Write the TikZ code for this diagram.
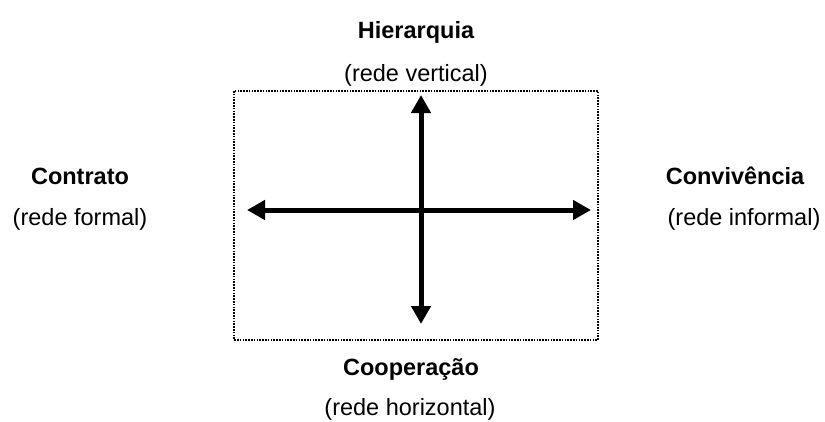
\documentclass[tikz,border=0pt]{standalone}
\usepackage{fontspec}
\setmainfont{Liberation Sans}
\usetikzlibrary{arrows.meta}
\tikzset{
  lbl/.style={anchor=base, inner sep=0pt, font=\fontsize{23.5}{28}\selectfont},
  ttl/.style={lbl, font=\fontsize{23.5}{28}\selectfont\bfseries},
  axis/.style={line width=5pt, {Triangle[width=19pt,length=18pt]}-{Triangle[width=19pt,length=18pt]}},
  frame/.style={line width=2pt, dash pattern=on 1.6pt off 1.2pt}
}
\begin{document}
\begin{tikzpicture}[x=1pt, y=-1pt]
\useasboundingbox (0,0) rectangle (825,421);
\draw[frame] (234,91) rectangle (598,340);
\coordinate (top) at (421,95);
\coordinate (bot) at (421,324);
\coordinate (lft) at (247,210);
\coordinate (rgt) at (591,210);
\draw[axis] (bot) -- (top);
\draw[axis] (lft) -- (rgt);
\node[ttl] (hier) at (416,38) {Hierarquia};
\node[lbl] (vert) at (416,81) {(rede vertical)};
\node[ttl] (contr) at (80,184) {Contrato};
\node[lbl] (form) at (80,225) {(rede formal)};
\node[ttl] (conv) at (735,184) {Convivência};
\node[lbl] (inf) at (744,225) {(rede informal)};
\node[ttl] (coop) at (411,375) {Cooperação};
\node[lbl] (horz) at (410,415) {(rede horizontal)};
\end{tikzpicture}
\end{document}
